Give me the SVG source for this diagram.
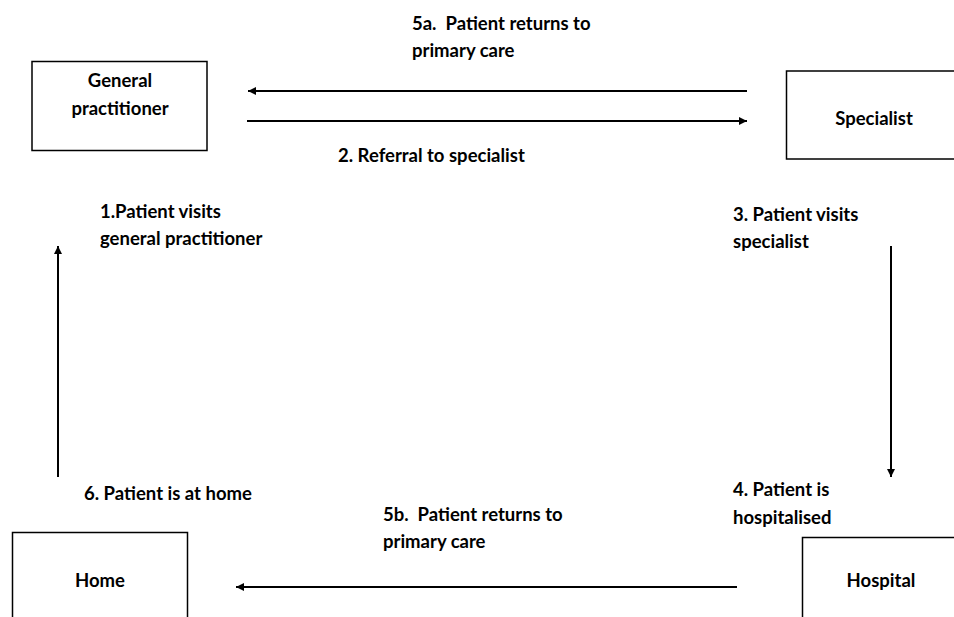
<svg xmlns="http://www.w3.org/2000/svg" width="954" height="617" viewBox="0 0 954 617">
<style>
text{font-family:Lato,"Open Sans","Liberation Sans",sans-serif;font-weight:bold;font-size:18.5px;fill:#000}
.box{fill:#fff;stroke:#000;stroke-width:1.5}
.c{stroke:#000;stroke-width:2;fill:none}
.mid{text-anchor:middle}
</style>
<defs>
<marker id="ah" viewBox="0 0 10 10" refX="10" refY="5" markerWidth="10" markerHeight="8" markerUnits="userSpaceOnUse" orient="auto">
<path d="M0,0 L10,5 L0,10 z" fill="#000"/>
</marker>
</defs>
<rect width="954" height="617" fill="#fff"/>
<g id="gp">
<rect class="box" x="32" y="61.5" width="175" height="89"/>
<text class="mid" x="120" y="87">General</text>
<text class="mid" x="120" y="115">practitioner</text>
</g>
<g id="specialist">
<rect class="box" x="786.5" y="71" width="180" height="88"/>
<text class="mid" x="874" y="125">Specialist</text>
</g>
<g id="home">
<rect class="box" x="12.5" y="532.5" width="175" height="100"/>
<text class="mid" x="100" y="587">Home</text>
</g>
<g id="hospital">
<rect class="box" x="802.5" y="537.5" width="170" height="100"/>
<text class="mid" x="881" y="587">Hospital</text>
</g>
<g id="connectors">
<line class="c" x1="747" y1="91" x2="248" y2="91" marker-end="url(#ah)"/>
<line class="c" x1="247" y1="121" x2="747" y2="121" marker-end="url(#ah)"/>
<line class="c" x1="58" y1="477" x2="58" y2="246" marker-end="url(#ah)"/>
<line class="c" x1="891" y1="246" x2="891" y2="477" marker-end="url(#ah)"/>
<line class="c" x1="737" y1="587" x2="236" y2="587" marker-end="url(#ah)"/>
</g>
<g id="labels">
<text x="412" y="30" xml:space="preserve">5a.  Patient returns to</text>
<text x="412" y="57">primary care</text>
<text x="338" y="162">2. Referral to specialist</text>
<text x="100" y="218">1.Patient visits</text>
<text x="100" y="245">general practitioner</text>
<text x="733" y="221">3. Patient visits</text>
<text x="733" y="248">specialist</text>
<text x="84" y="500">6. Patient is at home</text>
<text x="733" y="496">4. Patient is</text>
<text x="733" y="524">hospitalised</text>
<text x="383" y="521" xml:space="preserve">5b.  Patient returns to</text>
<text x="383" y="548">primary care</text>
</g>
</svg>
